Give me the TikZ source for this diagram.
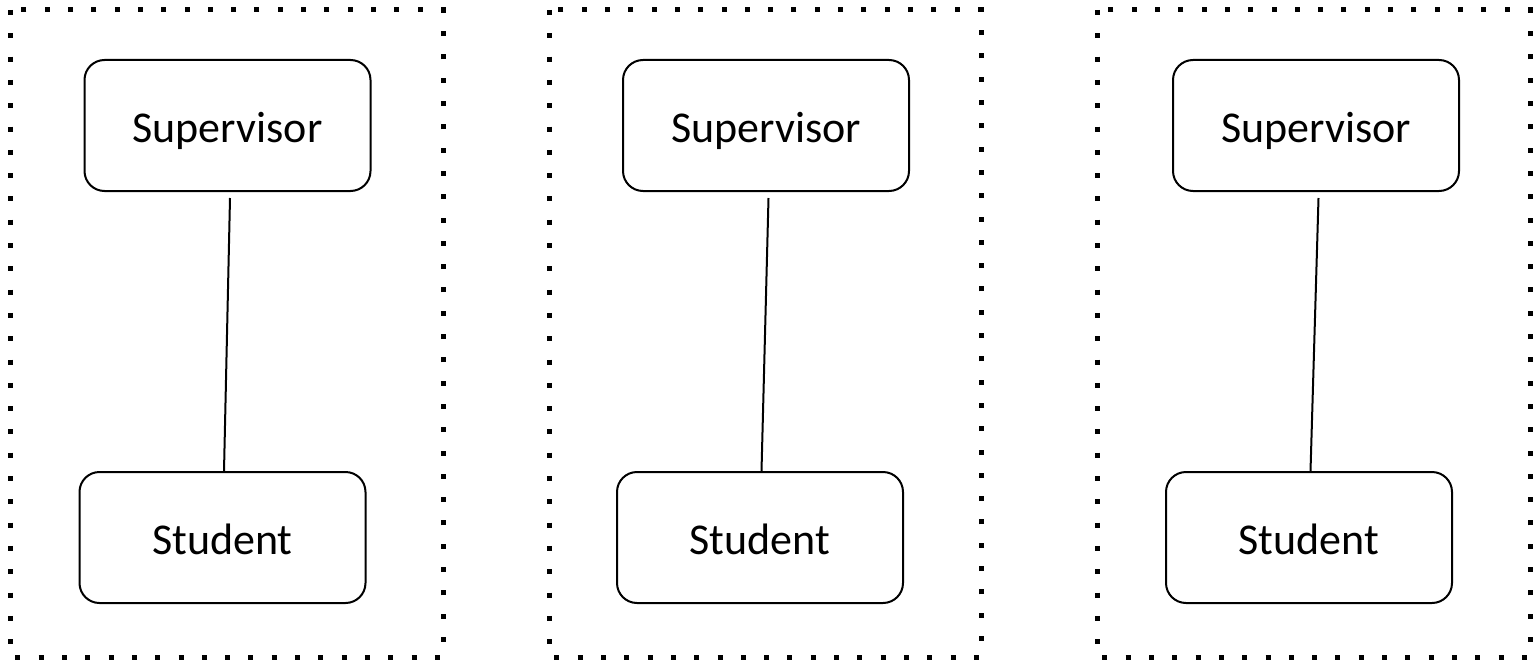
\documentclass[tikz,border=0pt]{standalone}
\usepackage{fontspec}
\setmainfont{Carlito}
\begin{document}
\begin{tikzpicture}[x=1pt,y=-1pt,
  role/.style={draw, line width=2pt, rounded corners=20pt, minimum width=286pt, minimum height=131pt, inner sep=0pt, text height=33pt, text depth=0pt, font=\fontsize{44}{52}\selectfont},
  frame/.style={line width=5pt, dash pattern=on 5pt off 18.3pt},
  tie/.style={line width=2pt}]
\useasboundingbox (0,0) rectangle (1533,661);
\draw[frame] (10,10) rectangle (443,657);
\draw[frame] (549,10) rectangle (981,657);
\draw[frame] (1097,10) rectangle (1530,657);
\foreach \i/\sx/\tx in {1/227.5/222.5, 2/766/760, 3/1316/1309}{
  \node[role] (sup\i) at (\sx,125.5) {Supervisor};
  \node[role] (stu\i) at (\tx,537.5) {Student};
  \draw[tie] ([xshift=2.5pt,yshift=-6pt]sup\i.south) -- ([xshift=1.5pt]stu\i.north);
}
\end{tikzpicture}
\end{document}
